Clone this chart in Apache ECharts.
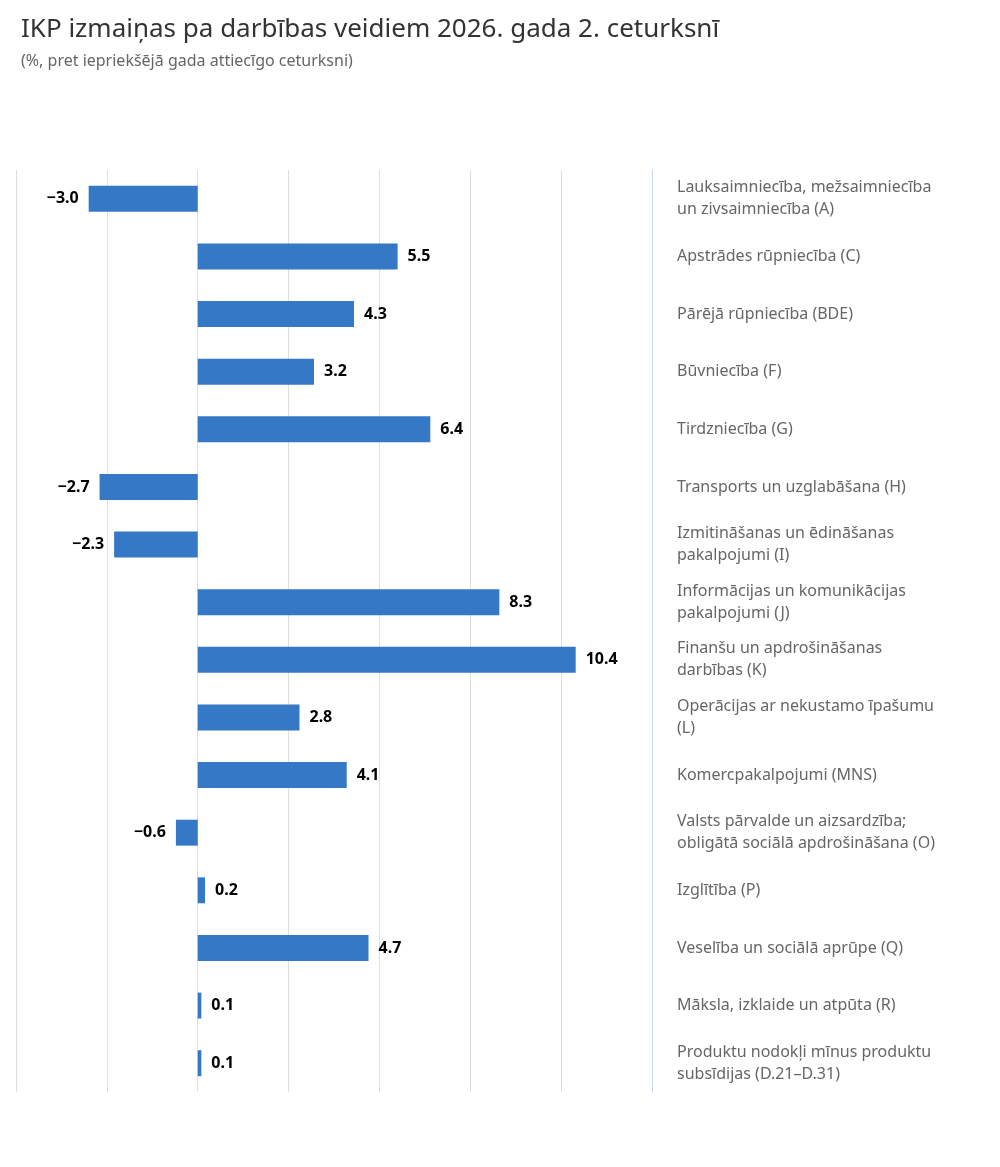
<!DOCTYPE html>
<html>
<head>
<meta charset="utf-8">
<script src="https://cdn.jsdelivr.net/npm/echarts@6/dist/echarts.min.js"></script>
<style>
  html, body { margin: 0; padding: 0; background: #fff; }
  #chart { width: 1000px; height: 1167px; }
</style>
</head>
<body>
<div id="chart"></div>
<script>
var categories = [
  'Lauksaimniecība, mežsaimniecība\nun zivsaimniecība (A)',
  'Apstrādes rūpniecība (C)',
  'Pārējā rūpniecība (BDE)',
  'Būvniecība (F)',
  'Tirdzniecība (G)',
  'Transports un uzglabāšana (H)',
  'Izmitināšanas un ēdināšanas\npakalpojumi (I)',
  'Informācijas un komunikācijas\npakalpojumi (J)',
  'Finanšu un apdrošināšanas\ndarbības (K)',
  'Operācijas ar nekustamo īpašumu\n(L)',
  'Komercpakalpojumi (MNS)',
  'Valsts pārvalde un aizsardzība;\nobligātā sociālā apdrošināšana (O)',
  'Izglītība (P)',
  'Veselība un sociālā aprūpe (Q)',
  'Māksla, izklaide un atpūta (R)',
  'Produktu nodokļi mīnus produktu\nsubsīdijas (D.21–D.31)'
];
var values = [-3.0, 5.5, 4.3, 3.2, 6.4, -2.7, -2.3, 8.3, 10.4, 2.8, 4.1, -0.6, 0.2, 4.7, 0.1, 0.1];

var myChart = echarts.init(document.getElementById('chart'), null, { renderer: 'canvas' });

var option = {
  animation: false,
  textStyle: { fontFamily: 'Noto Sans' },
  title: {
    text: 'IKP izmaiņas pa darbības veidiem 2026. gada 2. ceturksnī',
    subtext: '(%, pret iepriekšējā gada attiecīgo ceturksni)',
    left: 16,
    top: 12,
    itemGap: 10,
    textStyle: { fontSize: 26, fontWeight: 'normal', color: '#333', fontFamily: 'Noto Sans' },
    subtextStyle: { fontSize: 16, color: '#666', fontFamily: 'Noto Sans' }
  },
  grid: { left: 16, right: 348, top: 170, bottom: 75 },
  xAxis: {
    type: 'value',
    min: -5,
    max: 12.5,
    interval: 2.5,
    axisLabel: { show: false },
    axisLine: { show: false },
    axisTick: { show: false },
    splitLine: { lineStyle: { color: '#dedede' } }
  },
  yAxis: {
    type: 'category',
    data: categories,
    inverse: true,
    position: 'right',
    axisLine: { show: true, onZero: false, lineStyle: { color: '#ccd6eb' } },
    axisTick: { show: false },
    axisLabel: {
      align: 'left',
      margin: 25,
      fontSize: 16,
      lineHeight: 22,
      color: '#666',
      fontFamily: 'Noto Sans'
    }
  },
  series: [{
    type: 'bar',
    barWidth: '45%',
    itemStyle: { color: '#3478c6' },
    data: values.map(function (v) {
      return {
        value: v,
        label: { position: v < 0 ? 'left' : 'right' }
      };
    }),
    label: {
      show: true,
      distance: 10,
      fontSize: 16,
      fontWeight: 'bold',
      color: '#000',
      fontFamily: 'Noto Sans',
      formatter: function (p) {
        return p.value.toFixed(1).replace('-', '−');
      }
    }
  }]
};

myChart.setOption(option);
window.addEventListener('resize', myChart.resize);
</script>
</body>
</html>
